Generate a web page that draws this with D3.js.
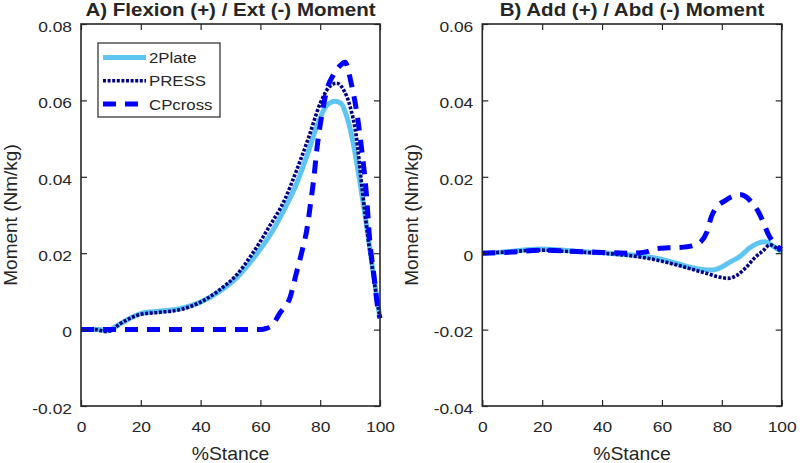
<!DOCTYPE html>
<html>
<head>
<meta charset="utf-8">
<script src="https://cdn.jsdelivr.net/npm/d3@7"></script>
<style>
  html, body { margin: 0; padding: 0; background: #fff; }
  svg { display: block; }
  text { font-family: "Liberation Sans", Arial, sans-serif; fill: #262626; }
</style>
</head>
<body>
<svg id="chart" width="800" height="463"></svg>
<script>
// ---------------- DATA ----------------
const seriesNames = ["2Plate", "PRESS", "CPcross"];
const xTicks = [0, 20, 40, 60, 80, 100];
const yTicksA = [-0.02, 0, 0.02, 0.04, 0.06, 0.08];
const yTicksB = [-0.04, -0.02, 0, 0.02, 0.04, 0.06];
const titleA = "A) Flexion (+) / Ext (-) Moment";
const titleB = "B) Add (+) / Abd (-) Moment";
const xLabel = "%Stance";
const yLabel = "Moment (Nm/kg)";

// Panel A - Flexion / Extension
const stanceA_2Plate = [0, 6, 9, 12, 16, 20, 26, 33, 40, 46, 52, 58, 63, 68, 72, 76, 79, 82, 85, 87, 89, 91, 93, 95, 97, 99, 100];
const momentA_2Plate = [0, 0, -0.0003, 0.001, 0.0028, 0.0042, 0.0048, 0.0055, 0.0072, 0.0098, 0.0135, 0.019, 0.0245, 0.0315, 0.038, 0.0465, 0.0535, 0.0585, 0.0598, 0.0592, 0.0555, 0.049, 0.040, 0.030, 0.019, 0.008, 0.003];

const stanceA_PRESS = [0, 5, 8, 10, 13, 16, 20, 26, 33, 40, 46, 52, 57, 63, 68, 72, 76, 80, 83, 85.5, 88, 90, 92, 94, 96, 98, 100];
const momentA_PRESS = [0, 0, -0.0005, -0.0003, 0.0015, 0.0028, 0.004, 0.0045, 0.0052, 0.0072, 0.0102, 0.0143, 0.0195, 0.027, 0.0338, 0.0415, 0.050, 0.0592, 0.0635, 0.0645, 0.0625, 0.0584, 0.051, 0.037, 0.024, 0.013, 0.003];

const stanceA_CPcross = [0, 60, 62, 64, 66.5, 70, 72, 74, 75.5, 76.6, 77.7, 79, 80.5, 82.2, 84.4, 86.5, 88.3, 90.5, 92, 93.9, 95.5, 96.5, 98, 99.4, 100];
const momentA_CPcross = [0, 0, 0.0003, 0.0012, 0.0043, 0.0086, 0.0147, 0.0208, 0.026, 0.032, 0.0385, 0.048, 0.056, 0.0627, 0.0667, 0.069, 0.070, 0.064, 0.058, 0.047, 0.035, 0.024, 0.014, 0.005, 0.003];

// Panel B - Adduction / Abduction
const stanceB_2Plate = [0, 5, 10, 15, 20, 25, 30, 35, 40, 45, 50, 55, 60, 65, 70, 74, 77, 80, 83, 86, 89, 92, 94.5, 97, 100];
const momentB_2Plate = [0, 0.0002, 0.0005, 0.0009, 0.0011, 0.0009, 0.0006, 0.0003, 0.0001, -0.0002, -0.0005, -0.0009, -0.0016, -0.0027, -0.0038, -0.0043, -0.0044, -0.0036, -0.0022, -0.0009, 0.0012, 0.0026, 0.003, 0.0019, 0.0003];

const stanceB_PRESS = [0, 5, 10, 15, 20, 25, 30, 35, 40, 45, 50, 55, 60, 65, 70, 75, 79, 82, 85, 88, 91, 94, 96, 98, 100];
const momentB_PRESS = [0, 0.0002, 0.0004, 0.0007, 0.0008, 0.0006, 0.0004, 0.0002, 0, -0.0003, -0.0007, -0.0013, -0.0021, -0.0031, -0.0042, -0.0053, -0.0062, -0.0066, -0.0058, -0.0038, -0.0012, 0.0008, 0.0022, 0.0015, 0.0003];

const stanceB_CPcross = [0, 10, 20, 30, 40, 50, 55, 58, 62, 66, 70, 73, 75, 76.5, 78, 81, 84, 86.5, 88.5, 90.5, 92.5, 94, 95.5, 97.5, 100];
const momentB_CPcross = [0, 0.0003, 0.0008, 0.0005, 0.0002, 0, 0.0004, 0.0012, 0.0014, 0.0015, 0.0019, 0.003, 0.0055, 0.0095, 0.0118, 0.0137, 0.015, 0.0153, 0.0145, 0.0128, 0.0104, 0.0078, 0.005, 0.0025, 0.001];

// ---------------- STYLE ----------------
const styles = {
  "2Plate":  { color: "#5ec5f2", width: 5,   dash: null },
  "PRESS":   { color: "#000080", width: 3.6, dash: "3,1.6" },
  "CPcross": { color: "#0000ff", width: 5,   dash: "13,9" }
};

const svg = d3.select("#chart");

function stretch(sel, f) {
  sel.each(function () {
    const w = this.getComputedTextLength();
    this.setAttribute("textLength", w * f);
    this.setAttribute("lengthAdjust", "spacingAndGlyphs");
  });
}

const tickFmt = d => d === 0 ? "0" : d3.format(".2f")(d).replace("\u2212", "-");

function panel(cfg) {
  const x = d3.scaleLinear().domain([0, 100]).range([cfg.left, cfg.right]);
  const y = d3.scaleLinear().domain(cfg.yDomain).range([406, 24]);
  const g = svg.append("g");

  // curves
  const line = d3.line().x(d => x(d[0])).y(d => y(d[1])).curve(d3.curveMonotoneX);
  cfg.series.forEach(s => {
    const st = styles[s.name];
    const pts = s.x.map((v, i) => [v, s.y[i]]);
    g.append("path")
      .attr("d", line(pts))
      .attr("fill", "none")
      .attr("stroke", st.color)
      .attr("stroke-width", st.width)
      .attr("stroke-dasharray", st.dash)
      .attr("stroke-linejoin", "round");
  });

  const axColor = "#262626";
  // axes
  const gb = g.append("g").attr("transform", `translate(0,406)`)
    .call(d3.axisBottom(x).tickValues(xTicks).tickSizeInner(-6).tickSizeOuter(0).tickPadding(16).tickFormat(d3.format("d")));
  const gt = g.append("g").attr("transform", `translate(0,24)`)
    .call(d3.axisTop(x).tickValues(xTicks).tickSizeInner(-6).tickSizeOuter(0).tickFormat(""));
  const gl = g.append("g").attr("transform", `translate(${cfg.left},0)`)
    .call(d3.axisLeft(y).tickValues(cfg.yTicks).tickSizeInner(-6).tickSizeOuter(0).tickPadding(9).tickFormat(tickFmt));
  const gr = g.append("g").attr("transform", `translate(${cfg.right},0)`)
    .call(d3.axisRight(y).tickValues(cfg.yTicks).tickSizeInner(-6).tickSizeOuter(0).tickFormat(""));

  [gb, gt, gl, gr].forEach(a => {
    a.select(".domain").remove();
    a.selectAll("line").attr("stroke", axColor).attr("stroke-width", 1.2);
    a.selectAll("text").attr("font-size", 14.5).attr("font-family", "Liberation Sans, Arial, sans-serif").attr("fill", "#1f1f1f");
  });
  gl.selectAll("text").attr("dy", "0.5em");
  stretch(gb.selectAll("text"), 1.2);
  stretch(gl.selectAll("text"), 1.2);

  // box
  g.append("rect")
    .attr("x", cfg.left).attr("y", 24)
    .attr("width", cfg.right - cfg.left).attr("height", 406 - 24)
    .attr("fill", "none").attr("stroke", axColor).attr("stroke-width", 1.6);

  // title
  const t = g.append("text")
    .attr("x", (cfg.left + cfg.right) / 2).attr("y", 15.5)
    .attr("text-anchor", "middle").attr("font-size", 18).attr("font-weight", "bold")
    .attr("fill", "#1a1a1a")
    .text(cfg.title);
  stretch(t, 1.14);

  // x label
  const xl = g.append("text")
    .attr("x", (cfg.left + cfg.right) / 2).attr("y", 460)
    .attr("text-anchor", "middle").attr("font-size", 19)
    .text(xLabel);
  stretch(xl, 1.02);

  // y label
  const yl = g.append("text")
    .attr("transform", `translate(${cfg.ylabelX},215) rotate(-90)`)
    .attr("text-anchor", "middle").attr("font-size", 19)
    .text(yLabel);
  stretch(yl, 1.0);

  return { x, y, g };
}

panel({
  left: 81, right: 380, yDomain: [-0.02, 0.08], yTicks: yTicksA, title: titleA, ylabelX: 17,
  series: [
    { name: "2Plate", x: stanceA_2Plate, y: momentA_2Plate },
    { name: "PRESS", x: stanceA_PRESS, y: momentA_PRESS },
    { name: "CPcross", x: stanceA_CPcross, y: momentA_CPcross }
  ]
});

panel({
  left: 482.3, right: 781.7, yDomain: [-0.04, 0.06], yTicks: yTicksB, title: titleB, ylabelX: 418,
  series: [
    { name: "2Plate", x: stanceB_2Plate, y: momentB_2Plate },
    { name: "PRESS", x: stanceB_PRESS, y: momentB_PRESS },
    { name: "CPcross", x: stanceB_CPcross, y: momentB_CPcross }
  ]
});

// legend (panel A)
const lg = svg.append("g");
lg.append("rect").attr("x", 98).attr("y", 43).attr("width", 122).attr("height", 74)
  .attr("fill", "#fff").attr("stroke", "#262626").attr("stroke-width", 1.2);
const legY = d3.scalePoint().domain(seriesNames).range([57.5, 104]);
seriesNames.forEach(n => {
  const st = styles[n];
  lg.append("line")
    .attr("x1", 103).attr("x2", 146).attr("y1", legY(n)).attr("y2", legY(n))
    .attr("stroke", st.color).attr("stroke-width", st.width).attr("stroke-dasharray", st.dash);
  const tx = lg.append("text").attr("x", 149).attr("y", legY(n) + 5.5)
    .attr("font-size", 14).text(n);
  stretch(tx, 1.2);
});
</script>
</body>
</html>
